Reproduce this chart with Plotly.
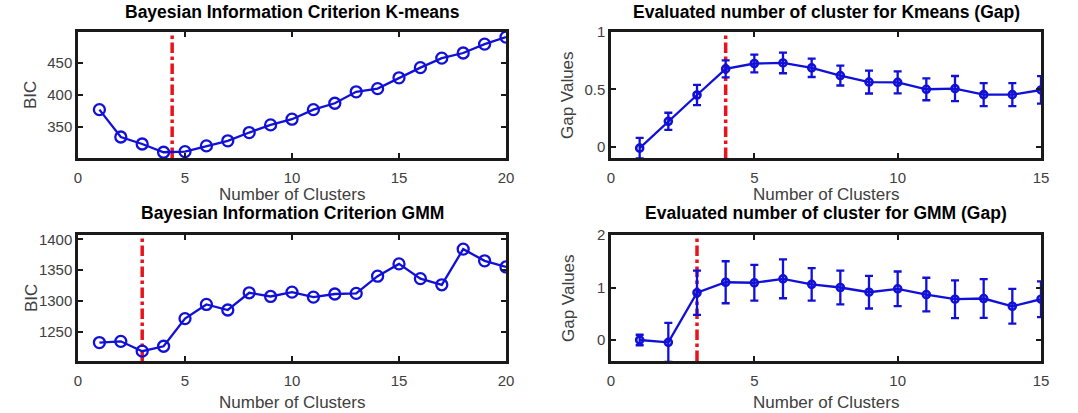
import plotly.graph_objects as go

# ---------------- data ----------------
k20 = list(range(1, 21))
k15 = list(range(1, 16))

bic_kmeans = [377, 334, 323, 310, 311, 320, 328, 341, 353, 362,
              377, 387, 405, 410, 427, 443, 458, 466, 480, 491]
bic_kmeans_opt = 4.4

gap_kmeans = [-0.014, 0.22, 0.45, 0.678, 0.725, 0.73, 0.687, 0.62, 0.563, 0.56,
              0.50, 0.506, 0.453, 0.453, 0.494]
gap_kmeans_err = [0.09, 0.075, 0.088, 0.075, 0.077, 0.09, 0.08, 0.087, 0.10, 0.096,
                  0.096, 0.11, 0.10, 0.10, 0.12]
gap_kmeans_opt = 4

bic_gmm = [1232, 1234, 1218, 1226, 1271, 1294, 1285, 1313, 1307, 1314,
           1306, 1311, 1312, 1340, 1360, 1336, 1326, 1384, 1365, 1355]
bic_gmm_opt = 3

gap_gmm = [0.0, -0.045, 0.9, 1.10, 1.09, 1.165, 1.06, 1.0, 0.91, 0.975,
           0.866, 0.777, 0.79, 0.643, 0.777]
gap_gmm_err = [0.1, 0.37, 0.42, 0.40, 0.34, 0.37, 0.31, 0.32, 0.31, 0.33,
               0.32, 0.36, 0.37, 0.33, 0.34]
gap_gmm_opt = 3

titles = ["Bayesian Information Criterion K-means",
          "Evaluated number of cluster for Kmeans (Gap)",
          "Bayesian Information Criterion GMM",
          "Evaluated number of cluster for GMM (Gap)"]
xlabel = "Number of Clusters"
ylabels = ["BIC", "Gap Values", "BIC", "Gap Values"]

yranges = [[301, 499], [-0.1, 1.0], [1202, 1407], [-0.4, 2.0]]
xranges = [[0, 20], [0, 15], [0, 20], [0, 15]]
yticks = [[350, 400, 450], [0, 0.5, 1], [1250, 1300, 1350, 1400], [0, 1, 2]]
yticktext = [["350", "400", "450"], ["0", "0.5", "1"],
             ["1250", "1300", "1350", "1400"], ["0", "1", "2"]]
xticks = [[0, 5, 10, 15, 20], [0, 5, 10, 15], [0, 5, 10, 15, 20], [0, 5, 10, 15]]

# ---------------- figure ----------------
W, H = 1078, 413
BLUE = "#1010d8"
RED = "#e8141c"
FONT = "Liberation Sans, Arial, sans-serif"
TXT = "#404040"

xdom = [[78 / W, 506 / W], [611 / W, 1041 / W], [78 / W, 506 / W], [611 / W, 1041 / W]]
ydom = [[1 - 158 / H, 1 - 32 / H], [1 - 158 / H, 1 - 32 / H],
        [1 - 361 / H, 1 - 235 / H], [1 - 361 / H, 1 - 235 / H]]

fig = go.Figure()

series = [
    (k20, bic_kmeans, None, bic_kmeans_opt),
    (k15, gap_kmeans, gap_kmeans_err, gap_kmeans_opt),
    (k20, bic_gmm, None, bic_gmm_opt),
    (k15, gap_gmm, gap_gmm_err, gap_gmm_opt),
]

for i, (xs, ys, err, opt) in enumerate(series):
    ax = "" if i == 0 else str(i + 1)
    xref, yref = "x" + ax, "y" + ax
    # optimum line
    fig.add_trace(go.Scatter(
        x=[opt, opt], y=yranges[i], mode="lines",
        line=dict(color=RED, width=3.5, dash="dashdot"),
        xaxis=xref, yaxis=yref, showlegend=False, hoverinfo="skip"))
    if err is None:
        fig.add_trace(go.Scatter(
            x=xs, y=ys, mode="lines+markers",
            line=dict(color=BLUE, width=2.3),
            marker=dict(symbol="circle-open", size=11, color=BLUE, line=dict(width=2.3)),
            xaxis=xref, yaxis=yref, showlegend=False, cliponaxis=True))
    else:
        fig.add_trace(go.Scatter(
            x=xs, y=ys, mode="lines+markers",
            line=dict(color=BLUE, width=2.3),
            marker=dict(symbol="circle-open", size=7, color=BLUE, line=dict(width=2.6)),
            error_y=dict(type="data", array=err, visible=True, color=BLUE,
                         thickness=2.3, width=4),
            xaxis=xref, yaxis=yref, showlegend=False, cliponaxis=True))

axis_common = dict(
    showline=True, linecolor="#1a1a1a", linewidth=2.5, mirror="allticks",
    ticks="inside", ticklen=5, tickwidth=1.5, tickcolor="#1a1a1a",
    showgrid=False, zeroline=False,
    tickfont=dict(family=FONT, size=15, color=TXT),
)

layout = dict(
    width=W, height=H, margin=dict(l=0, r=0, t=0, b=0, autoexpand=False),
    paper_bgcolor="white", plot_bgcolor="white", showlegend=False,
    font=dict(family=FONT),
)
for i in range(4):
    ax = "" if i == 0 else str(i + 1)
    layout["xaxis" + ax] = dict(
        axis_common, domain=xdom[i], range=xranges[i], tickvals=xticks[i],
        anchor="y" + ax, ticklabelstandoff=4)
    layout["yaxis" + ax] = dict(
        axis_common, domain=ydom[i], range=yranges[i], tickvals=yticks[i],
        ticktext=yticktext[i], anchor="x" + ax)
fig.update_layout(**layout)

title_y = [12, 12, 213, 213]
xlabel_y = [194, 194, 402, 402]
ylabel_x = [31, 568, 31, 568]
for i in range(4):
    cx = (xdom[i][0] + xdom[i][1]) / 2
    cy = (ydom[i][0] + ydom[i][1]) / 2
    fig.add_annotation(
        x=cx, y=1 - title_y[i] / H, xref="paper", yref="paper",
        text="<b>" + titles[i] + "</b>", showarrow=False,
        xanchor="center", yanchor="middle",
        font=dict(family=FONT, size=17.5, color="black"))
    fig.add_annotation(
        x=cx, y=1 - xlabel_y[i] / H, xref="paper", yref="paper",
        text=xlabel, showarrow=False, xanchor="center", yanchor="middle",
        font=dict(family=FONT, size=17, color=TXT))
    fig.add_annotation(
        x=ylabel_x[i] / W, y=cy, xref="paper", yref="paper",
        text=ylabels[i], showarrow=False, textangle=-90,
        xanchor="center", yanchor="middle",
        font=dict(family=FONT, size=17, color=TXT))

fig.write_html("out.html", config={"displayModeBar": False},
               post_script="document.body.style.margin='0px';")
